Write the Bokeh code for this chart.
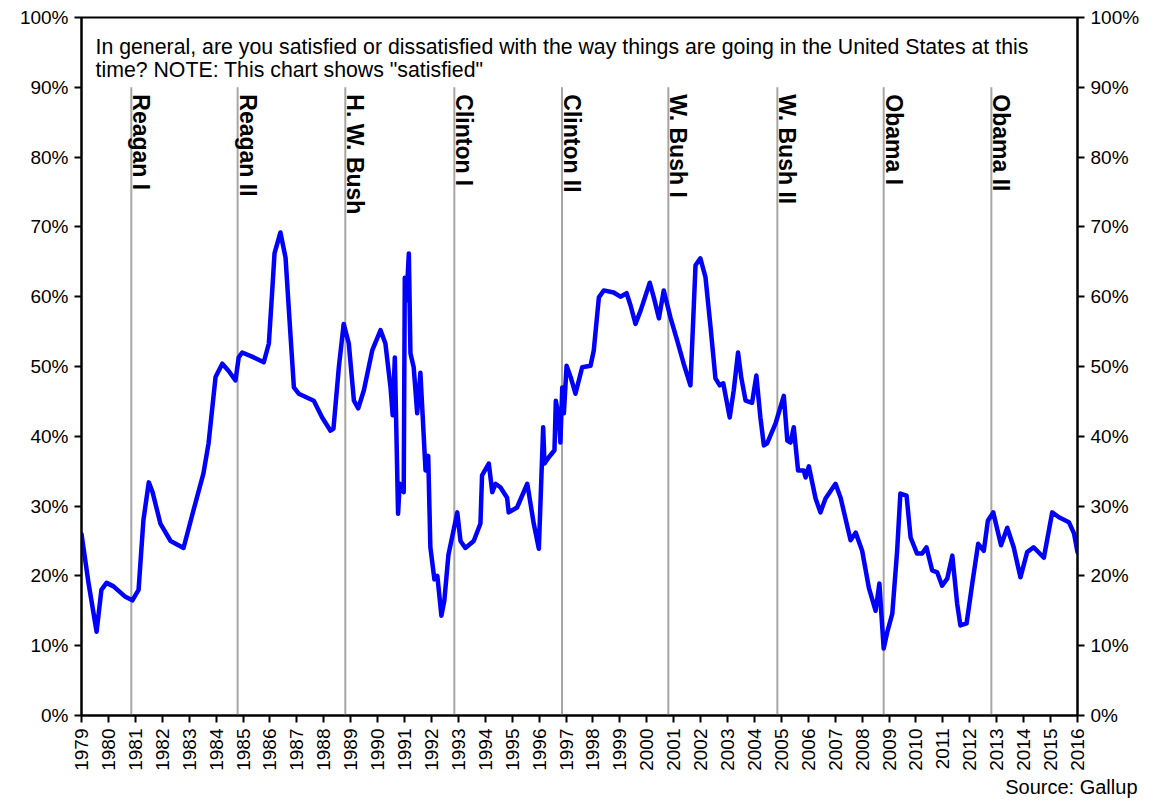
from math import pi
from bokeh.plotting import figure
from bokeh.models import LinearAxis, Range1d, FixedTicker, PrintfTickFormatter, Label, ColumnDataSource, Title
from bokeh.core.properties import value
from bokeh.embed import file_html
from bokeh.resources import INLINE

# ---- data ----
years = [1979.0, 1979.26, 1979.56, 1979.74, 1979.93, 1980.19, 1980.63, 1980.89, 1981.12, 1981.30,
         1981.50, 1981.64, 1981.93, 1982.31, 1982.79, 1983.16, 1983.53, 1983.72, 1983.98, 1984.23,
         1984.46, 1984.72, 1984.84, 1984.97, 1985.40, 1985.77, 1985.96, 1986.08, 1986.17, 1986.39,
         1986.58, 1986.76, 1986.89, 1987.07, 1987.63, 1987.94, 1988.25, 1988.36, 1988.56, 1988.74,
         1988.93, 1989.12, 1989.28, 1989.49, 1989.80, 1990.11, 1990.29, 1990.48, 1990.56, 1990.64,
         1990.76, 1990.82, 1990.97, 1991.01, 1991.07, 1991.16, 1991.22, 1991.34, 1991.47, 1991.59,
         1991.78, 1991.88, 1991.96, 1992.11, 1992.22, 1992.37, 1992.48, 1992.63, 1992.96, 1993.08,
         1993.26, 1993.57, 1993.82, 1993.88, 1994.13, 1994.26, 1994.38, 1994.56, 1994.81, 1994.87,
         1995.18, 1995.56, 1995.80, 1995.99, 1996.15, 1996.20, 1996.36, 1996.57, 1996.62, 1996.73,
         1996.79, 1996.86, 1996.92, 1997.02, 1997.17, 1997.35, 1997.60, 1997.91, 1998.03, 1998.22,
         1998.40, 1998.77, 1999.02, 1999.25, 1999.40, 1999.58, 1999.77, 2000.11, 2000.26, 2000.45,
         2000.63, 2000.88, 2001.13, 2001.37, 2001.62, 2001.75, 2001.81, 2001.99, 2002.18, 2002.37,
         2002.55, 2002.71, 2002.84, 2003.08, 2003.23, 2003.39, 2003.51, 2003.67, 2003.91, 2004.07,
         2004.22, 2004.35, 2004.47, 2004.78, 2005.09, 2005.22, 2005.34, 2005.46, 2005.62, 2005.83,
         2005.90, 2006.02, 2006.27, 2006.45, 2006.64, 2007.01, 2007.20, 2007.57, 2007.76, 2008.00,
         2008.25, 2008.50, 2008.64, 2008.80, 2008.93, 2009.12, 2009.30, 2009.42, 2009.65, 2009.80,
         2010.04, 2010.23, 2010.39, 2010.60, 2010.79, 2010.97, 2011.16, 2011.35, 2011.53, 2011.65,
         2011.88, 2012.09, 2012.31, 2012.52, 2012.67, 2012.87, 2013.16, 2013.39, 2013.63, 2013.88,
         2014.13, 2014.37, 2014.75, 2015.06, 2015.31, 2015.68, 2015.87, 2016.0]
satisfied = [26.0, 19.0, 12.0, 18.0, 19.0, 18.5, 17.0, 16.5, 18.0, 28.0,
             33.4, 32.0, 27.5, 25.0, 24.0, 29.4, 34.7, 39.0, 48.5, 50.4,
             49.4, 48.0, 51.3, 52.0, 51.3, 50.6, 53.3, 60.5, 66.2, 69.2,
             65.6, 54.7, 47.0, 46.1, 45.1, 42.7, 40.8, 41.1, 49.9, 56.1,
             53.3, 45.1, 44.0, 46.6, 52.3, 55.2, 53.3, 47.0, 43.0, 51.3,
             28.9, 33.2, 32.0, 62.7, 59.5, 66.2, 51.9, 49.9, 43.3, 49.1,
             35.1, 37.2, 24.1, 19.5, 20.0, 14.3, 16.5, 23.0, 29.1, 25.0,
             24.0, 25.0, 27.5, 34.4, 36.1, 32.0, 33.2, 32.7, 31.2, 29.1,
             29.8, 33.2, 27.5, 23.9, 41.3, 36.1, 37.0, 38.0, 45.1, 42.7,
             39.1, 47.0, 43.3, 50.1, 48.5, 46.1, 49.9, 50.1, 52.3, 59.9,
             60.9, 60.6, 60.0, 60.5, 58.7, 56.1, 58.0, 62.0, 59.9, 56.9,
             60.9, 57.0, 53.7, 50.4, 47.3, 59.0, 64.5, 65.5, 62.8, 55.6,
             48.3, 47.3, 47.6, 42.7, 46.6, 52.0, 48.4, 45.1, 44.8, 48.7,
             42.7, 38.7, 39.0, 41.8, 45.8, 39.4, 39.1, 41.3, 35.1, 35.1,
             34.1, 35.7, 31.1, 29.1, 31.1, 33.2, 31.2, 25.1, 26.2, 23.6,
             18.3, 15.0, 18.9, 9.6, 11.9, 14.6, 23.6, 31.8, 31.5, 25.5,
             23.2, 23.2, 24.1, 20.8, 20.5, 18.6, 19.6, 22.9, 16.0, 12.9,
             13.2, 18.9, 24.6, 23.6, 27.9, 29.1, 24.4, 26.9, 24.1, 19.8,
             23.4, 24.1, 22.6, 29.1, 28.4, 27.7, 26.1, 23.4]

terms_start = [1980.85, 1984.8, 1988.8, 1992.85, 1996.85, 2000.8, 2004.85, 2008.8, 2012.8]
terms = ["Reagan I", "Reagan II", "H. W. Bush", "Clinton I", "Clinton II",
         "W. Bush I", "W. Bush II", "Obama I", "Obama II"]

year_ticks = list(range(1979, 2017))
pct_ticks = list(range(0, 101, 10))

question_1 = "In general, are you satisfied or dissatisfied with the way things are going in the United States at this"
question_2 = 'time? NOTE: This chart shows "satisfied"'
source = "Source: Gallup"

FONT = "Liberation Sans"

p = figure(width=1148, height=798, x_range=Range1d(1979, 2016), y_range=Range1d(0, 100),
           output_backend="svg", toolbar_location=None,
           min_border_left=81, min_border_right=71, min_border_top=17, min_border_bottom=83)
p.title.visible = False
p.grid.visible = False
p.outline_line_color = "black"
p.outline_line_width = 2
p.background_fill_color = "white"
p.border_fill_color = "white"

# axes
p.xaxis.ticker = FixedTicker(ticks=year_ticks)
p.xaxis.major_label_orientation = pi / 2
p.yaxis.ticker = FixedTicker(ticks=pct_ticks)
p.yaxis.formatter = PrintfTickFormatter(format="%d%%")

right = LinearAxis(ticker=FixedTicker(ticks=pct_ticks), formatter=PrintfTickFormatter(format="%d%%"))
p.add_layout(right, "right")

for ax in [p.xaxis[0], p.yaxis[0], right]:
    ax.axis_line_color = "black"
    ax.axis_line_width = 2
    ax.major_tick_line_color = "black"
    ax.major_tick_line_width = 2
    ax.major_tick_out = 7
    ax.major_tick_in = 0
    ax.minor_tick_line_color = None
    ax.major_label_text_font = FONT
    ax.major_label_text_font_size = "19px"
    ax.major_label_text_color = "black"
    ax.major_label_standoff = 6

# source note below the axis
p.add_layout(Title(text=source, align="right", offset=-60, standoff=0, text_font=FONT,
                   text_font_size="20px", text_font_style="normal", text_color="black",
                   vertical_align="bottom"), "below")

# term separators
src_t = ColumnDataSource(dict(x=terms_start, y0=[0] * len(terms), y1=[90] * len(terms),
                              ylab=[89] * len(terms), name=terms))
p.segment(x0="x", y0="y0", x1="x", y1="y1", source=src_t, line_color="#A6A6A6", line_width=2)
p.text(x="x", y="ylab", text="name", source=src_t, angle=-pi / 2, x_offset=10,
       text_font=value(FONT), text_font_style="bold", text_font_size="23px",
       text_align="left", text_baseline="alphabetic", text_color="black")

# series
p.line(years, satisfied, line_color="#0000FF", line_width=4.5, line_join="round", line_cap="round")

# question text
p.add_layout(Label(x=1979.52, y=95.74, text=question_1, text_font=FONT, text_font_size="21.3px",
                   text_baseline="alphabetic", text_color="black"))
p.add_layout(Label(x=1979.52, y=92.5, text=question_2, text_font=FONT, text_font_size="21.3px",
                   text_baseline="alphabetic", text_color="black"))

open("out.html", "w").write(file_html(p, INLINE))
